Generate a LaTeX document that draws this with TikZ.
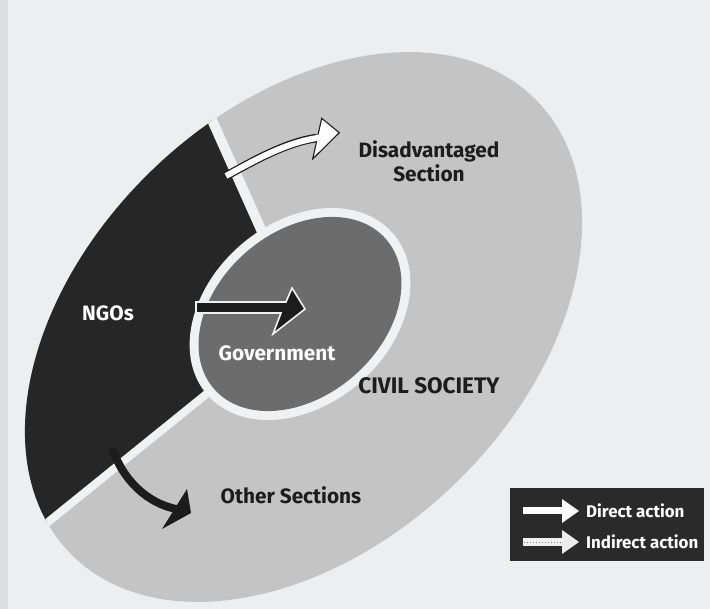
\documentclass[tikz,border=0pt]{standalone}
\usepackage{fontspec}
\setmainfont{Fira Sans}
\definecolor{paper}{HTML}{ECEEF0}
\definecolor{strip}{HTML}{DADDE1}
\definecolor{civil}{HTML}{C4C4C4}
\definecolor{ngo}{HTML}{262626}
\definecolor{gov}{HTML}{6C6C6C}
\definecolor{gapc}{HTML}{F0F1F2}
\definecolor{ink}{HTML}{1C1C1C}
\definecolor{legbg}{HTML}{2A2A2A}
\tikzset{
  lbl/.style={font=\bfseries\fontsize{20.8}{23.5}\selectfont, text=ink, inner sep=0pt, align=center},
  wlbl/.style={lbl, text=white},
  legtxt/.style={font=\bfseries\fontsize{16.9}{19}\selectfont, text=white, anchor=west, inner sep=0pt},
  outerell/.style={shift={(303.5,327)}, rotate=44},
  innerell/.style={shift={(300,314)}, rotate=41},
}
\begin{document}
\begin{tikzpicture}[x=1pt,y=-1pt]
\path[use as bounding box] (0,0) rectangle (710,609);
\fill[paper] (0,0) rectangle (710,609);
\fill[strip] (0,0) rectangle (8,609);

% civil society
\fill[civil, outerell] (0,0) ellipse [x radius=325, y radius=218];

% NGOs sector and gaps
\coordinate (ug1) at (161,6);
\coordinate (ug2) at (288.5,291);
\coordinate (lg1) at (251,358);
\coordinate (lg2) at (-38.5,592);
\begin{scope}
  \clip[outerell] (0,0) ellipse [x radius=325, y radius=218];
  \fill[ngo] (ug1) -- (ug2) -- (lg1) -- (lg2) -- (-100,620) -- (-100,-10) -- cycle;
  \draw[gapc, line width=10] (ug1) -- (ug2);
  \draw[gapc, line width=8] (lg1) -- (lg2);
\end{scope}

% government
\fill[gapc, innerell] (0,0) ellipse [x radius=123, y radius=91];
\fill[gov, innerell] (0,0) ellipse [x radius=114, y radius=82];

% arrow to disadvantaged section
\coordinate (da0) at (226,176);
\coordinate (da1) at (317,138);
\draw[ink, line width=8.5] (da0) .. controls (255,160) and (287,142) .. (da1);
\filldraw[fill=white, draw=ink, line width=1.1, line join=miter] (321.7,118.3) -- (339.3,132.7) -- (312.7,159) -- cycle;
\draw[white, line width=6, shorten >=-2.5pt] (da0) .. controls (255,160) and (287,142) .. (da1);

% arrow to government
\filldraw[fill=ink, draw=gapc, line width=1.6, line join=miter]
  (196,302) -- (286,302) -- (292,288) -- (305,309) -- (273,334) -- (281,313) -- (196,313) -- cycle;

% arrow to other sections
\coordinate (oa0) at (112,448);
\coordinate (oa1) at (176,509);
\draw[ink, line width=8] (oa0) .. controls (124,482) and (148,503) .. (oa1);
\fill[ink] (187,489) -- (191,513) -- (162,529) -- cycle;

% labels
\node[lbl] (dis) at (429,161) {Disadvantaged\\Section};
\node[lbl, font=\bfseries\fontsize{22.5}{24}\selectfont] (civ) at (429,386) {CIVIL SOCIETY};
\node[lbl] (oth) at (291,495) {Other Sections};
\node[wlbl] (ngos) at (108,313) {NGOs};
\node[wlbl] (govt) at (277,353) {Government};

% legend
\fill[legbg] (510,488) rectangle (704,561);
\fill[white] (523,507.5) rectangle (563,514.5);
\fill[white] (562,499) -- (579,511) -- (562,523) -- cycle;
\fill[white!88!gray] (523,538.5) rectangle (563,545.5);
\draw[gray, dotted, line width=1] (524,542) -- (562,542);
\fill[white!85!gray] (562,530) -- (579,542) -- (562,554) -- cycle;
\node[legtxt] (ld) at (586,511) {Direct action};
\node[legtxt] (li) at (586,542) {Indirect action};
\end{tikzpicture}
\end{document}
